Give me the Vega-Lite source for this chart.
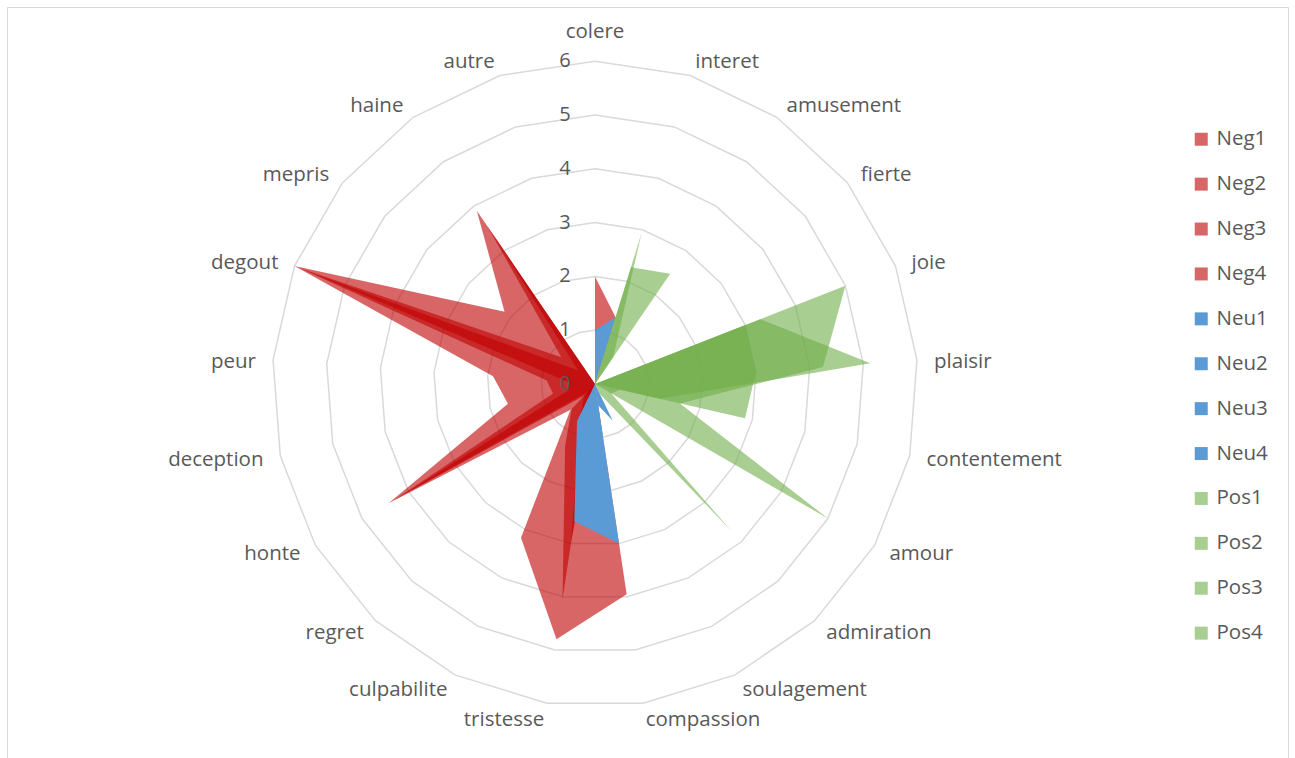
{
  "$schema": "https://vega.github.io/schema/vega-lite/v6.json",
  "width": 1281,
  "height": 752,
  "autosize": "none",
  "padding": {"left": 7, "top": 7, "right": 7, "bottom": 0},
  "background": "white",
  "config": {"view": {"stroke": "#D9D9D9", "strokeWidth": 1}},
  "datasets": {
    "cats": [
      {"c": "colere", "i": 0}, {"c": "interet", "i": 1}, {"c": "amusement", "i": 2}, {"c": "fierte", "i": 3},
      {"c": "joie", "i": 4}, {"c": "plaisir", "i": 5}, {"c": "contentement", "i": 6}, {"c": "amour", "i": 7},
      {"c": "admiration", "i": 8}, {"c": "soulagement", "i": 9}, {"c": "compassion", "i": 10}, {"c": "tristesse", "i": 11},
      {"c": "culpabilite", "i": 12}, {"c": "regret", "i": 13}, {"c": "honte", "i": 14}, {"c": "deception", "i": 15},
      {"c": "peur", "i": 16}, {"c": "degout", "i": 17}, {"c": "mepris", "i": 18}, {"c": "haine", "i": 19}, {"c": "autre", "i": 20}
    ],
    "ticks": [{"t": 0}, {"t": 1}, {"t": 2}, {"t": 3}, {"t": 4}, {"t": 5}, {"t": 6}],
    "vals": [
      {"s":"Neg1","c":"colere","v":2},{"s":"Neg1","c":"interet","v":1.3},{"s":"Neg1","c":"amusement","v":0},{"s":"Neg1","c":"fierte","v":0},{"s":"Neg1","c":"joie","v":0},{"s":"Neg1","c":"plaisir","v":0},{"s":"Neg1","c":"contentement","v":0},{"s":"Neg1","c":"amour","v":0},{"s":"Neg1","c":"admiration","v":0},{"s":"Neg1","c":"soulagement","v":0},{"s":"Neg1","c":"compassion","v":0},{"s":"Neg1","c":"tristesse","v":4.05},{"s":"Neg1","c":"culpabilite","v":1.28},{"s":"Neg1","c":"regret","v":0.64},{"s":"Neg1","c":"honte","v":4.43},{"s":"Neg1","c":"deception","v":1.66},{"s":"Neg1","c":"peur","v":1.9},{"s":"Neg1","c":"degout","v":6},{"s":"Neg1","c":"mepris","v":2.15},{"s":"Neg1","c":"haine","v":3.9},{"s":"Neg1","c":"autre","v":0},
      {"s":"Neg2","c":"colere","v":0},{"s":"Neg2","c":"interet","v":0},{"s":"Neg2","c":"amusement","v":0},{"s":"Neg2","c":"fierte","v":0},{"s":"Neg2","c":"joie","v":0},{"s":"Neg2","c":"plaisir","v":0},{"s":"Neg2","c":"contentement","v":0},{"s":"Neg2","c":"amour","v":0},{"s":"Neg2","c":"admiration","v":0},{"s":"Neg2","c":"soulagement","v":0},{"s":"Neg2","c":"compassion","v":3.95},{"s":"Neg2","c":"tristesse","v":4.8},{"s":"Neg2","c":"culpabilite","v":3.17},{"s":"Neg2","c":"regret","v":0.68},{"s":"Neg2","c":"honte","v":0},{"s":"Neg2","c":"deception","v":0},{"s":"Neg2","c":"peur","v":0},{"s":"Neg2","c":"degout","v":0},{"s":"Neg2","c":"mepris","v":0},{"s":"Neg2","c":"haine","v":0},{"s":"Neg2","c":"autre","v":0},
      {"s":"Neg3","c":"colere","v":0},{"s":"Neg3","c":"interet","v":0},{"s":"Neg3","c":"amusement","v":0},{"s":"Neg3","c":"fierte","v":0},{"s":"Neg3","c":"joie","v":0},{"s":"Neg3","c":"plaisir","v":0},{"s":"Neg3","c":"contentement","v":0},{"s":"Neg3","c":"amour","v":0},{"s":"Neg3","c":"admiration","v":0},{"s":"Neg3","c":"soulagement","v":0},{"s":"Neg3","c":"compassion","v":0.3},{"s":"Neg3","c":"tristesse","v":3.0},{"s":"Neg3","c":"culpabilite","v":0.6},{"s":"Neg3","c":"regret","v":0.3},{"s":"Neg3","c":"honte","v":4.3},{"s":"Neg3","c":"deception","v":0.8},{"s":"Neg3","c":"peur","v":0.9},{"s":"Neg3","c":"degout","v":5.9},{"s":"Neg3","c":"mepris","v":0.8},{"s":"Neg3","c":"haine","v":3.57},{"s":"Neg3","c":"autre","v":0},
      {"s":"Neg4","c":"colere","v":0},{"s":"Neg4","c":"interet","v":0},{"s":"Neg4","c":"amusement","v":0},{"s":"Neg4","c":"fierte","v":0},{"s":"Neg4","c":"joie","v":0},{"s":"Neg4","c":"plaisir","v":0},{"s":"Neg4","c":"contentement","v":0},{"s":"Neg4","c":"amour","v":0},{"s":"Neg4","c":"admiration","v":0},{"s":"Neg4","c":"soulagement","v":0},{"s":"Neg4","c":"compassion","v":0},{"s":"Neg4","c":"tristesse","v":2.0},{"s":"Neg4","c":"culpabilite","v":0.3},{"s":"Neg4","c":"regret","v":0.2},{"s":"Neg4","c":"honte","v":4.1},{"s":"Neg4","c":"deception","v":0.5},{"s":"Neg4","c":"peur","v":0.5},{"s":"Neg4","c":"degout","v":5.6},{"s":"Neg4","c":"mepris","v":0.4},{"s":"Neg4","c":"haine","v":3.4},{"s":"Neg4","c":"autre","v":0},
      {"s":"Neu1","c":"colere","v":1},{"s":"Neu1","c":"interet","v":1.3},{"s":"Neu1","c":"amusement","v":0},{"s":"Neu1","c":"fierte","v":0},{"s":"Neu1","c":"joie","v":0},{"s":"Neu1","c":"plaisir","v":0},{"s":"Neu1","c":"contentement","v":0},{"s":"Neu1","c":"amour","v":0},{"s":"Neu1","c":"admiration","v":0},{"s":"Neu1","c":"soulagement","v":0},{"s":"Neu1","c":"compassion","v":0},{"s":"Neu1","c":"tristesse","v":0},{"s":"Neu1","c":"culpabilite","v":0},{"s":"Neu1","c":"regret","v":0},{"s":"Neu1","c":"honte","v":0},{"s":"Neu1","c":"deception","v":0},{"s":"Neu1","c":"peur","v":0},{"s":"Neu1","c":"degout","v":0},{"s":"Neu1","c":"mepris","v":0},{"s":"Neu1","c":"haine","v":0},{"s":"Neu1","c":"autre","v":0},
      {"s":"Neu2","c":"colere","v":0},{"s":"Neu2","c":"interet","v":0},{"s":"Neu2","c":"amusement","v":0},{"s":"Neu2","c":"fierte","v":0},{"s":"Neu2","c":"joie","v":0},{"s":"Neu2","c":"plaisir","v":0},{"s":"Neu2","c":"contentement","v":0},{"s":"Neu2","c":"amour","v":0},{"s":"Neu2","c":"admiration","v":0},{"s":"Neu2","c":"soulagement","v":0},{"s":"Neu2","c":"compassion","v":3.0},{"s":"Neu2","c":"tristesse","v":2.58},{"s":"Neu2","c":"culpabilite","v":0.77},{"s":"Neu2","c":"regret","v":0},{"s":"Neu2","c":"honte","v":0},{"s":"Neu2","c":"deception","v":0},{"s":"Neu2","c":"peur","v":0},{"s":"Neu2","c":"degout","v":0},{"s":"Neu2","c":"mepris","v":0},{"s":"Neu2","c":"haine","v":0},{"s":"Neu2","c":"autre","v":0},
      {"s":"Neu3","c":"colere","v":0},{"s":"Neu3","c":"interet","v":0},{"s":"Neu3","c":"amusement","v":0},{"s":"Neu3","c":"fierte","v":0},{"s":"Neu3","c":"joie","v":0},{"s":"Neu3","c":"plaisir","v":0},{"s":"Neu3","c":"contentement","v":0},{"s":"Neu3","c":"amour","v":0},{"s":"Neu3","c":"admiration","v":0},{"s":"Neu3","c":"soulagement","v":0.76},{"s":"Neu3","c":"compassion","v":0.4},{"s":"Neu3","c":"tristesse","v":0},{"s":"Neu3","c":"culpabilite","v":0},{"s":"Neu3","c":"regret","v":0},{"s":"Neu3","c":"honte","v":0},{"s":"Neu3","c":"deception","v":0},{"s":"Neu3","c":"peur","v":0},{"s":"Neu3","c":"degout","v":0},{"s":"Neu3","c":"mepris","v":0},{"s":"Neu3","c":"haine","v":0},{"s":"Neu3","c":"autre","v":0},
      {"s":"Neu4","c":"colere","v":0.5},{"s":"Neu4","c":"interet","v":0},{"s":"Neu4","c":"amusement","v":0},{"s":"Neu4","c":"fierte","v":0},{"s":"Neu4","c":"joie","v":0},{"s":"Neu4","c":"plaisir","v":0},{"s":"Neu4","c":"contentement","v":0},{"s":"Neu4","c":"amour","v":0},{"s":"Neu4","c":"admiration","v":0},{"s":"Neu4","c":"soulagement","v":0},{"s":"Neu4","c":"compassion","v":1.0},{"s":"Neu4","c":"tristesse","v":1.0},{"s":"Neu4","c":"culpabilite","v":0},{"s":"Neu4","c":"regret","v":0},{"s":"Neu4","c":"honte","v":0},{"s":"Neu4","c":"deception","v":0},{"s":"Neu4","c":"peur","v":0},{"s":"Neu4","c":"degout","v":0},{"s":"Neu4","c":"mepris","v":0},{"s":"Neu4","c":"haine","v":0},{"s":"Neu4","c":"autre","v":0},
      {"s":"Pos1","c":"colere","v":0},{"s":"Pos1","c":"interet","v":2.94},{"s":"Pos1","c":"amusement","v":0.6},{"s":"Pos1","c":"fierte","v":0},{"s":"Pos1","c":"joie","v":3.3},{"s":"Pos1","c":"plaisir","v":5.13},{"s":"Pos1","c":"contentement","v":1.24},{"s":"Pos1","c":"amour","v":0},{"s":"Pos1","c":"admiration","v":0},{"s":"Pos1","c":"soulagement","v":0},{"s":"Pos1","c":"compassion","v":0},{"s":"Pos1","c":"tristesse","v":0},{"s":"Pos1","c":"culpabilite","v":0},{"s":"Pos1","c":"regret","v":0},{"s":"Pos1","c":"honte","v":0},{"s":"Pos1","c":"deception","v":0},{"s":"Pos1","c":"peur","v":0},{"s":"Pos1","c":"degout","v":0},{"s":"Pos1","c":"mepris","v":0},{"s":"Pos1","c":"haine","v":0},{"s":"Pos1","c":"autre","v":0},
      {"s":"Pos2","c":"colere","v":0},{"s":"Pos2","c":"interet","v":3.23},{"s":"Pos2","c":"amusement","v":0},{"s":"Pos2","c":"fierte","v":0},{"s":"Pos2","c":"joie","v":5.0},{"s":"Pos2","c":"plaisir","v":4.25},{"s":"Pos2","c":"contentement","v":1.62},{"s":"Pos2","c":"amour","v":5.0},{"s":"Pos2","c":"admiration","v":0},{"s":"Pos2","c":"soulagement","v":0},{"s":"Pos2","c":"compassion","v":0},{"s":"Pos2","c":"tristesse","v":0},{"s":"Pos2","c":"culpabilite","v":0},{"s":"Pos2","c":"regret","v":0},{"s":"Pos2","c":"honte","v":0},{"s":"Pos2","c":"deception","v":0},{"s":"Pos2","c":"peur","v":0},{"s":"Pos2","c":"degout","v":0},{"s":"Pos2","c":"mepris","v":0},{"s":"Pos2","c":"haine","v":0},{"s":"Pos2","c":"autre","v":0},
      {"s":"Pos3","c":"colere","v":0},{"s":"Pos3","c":"interet","v":2.27},{"s":"Pos3","c":"amusement","v":2.48},{"s":"Pos3","c":"fierte","v":0},{"s":"Pos3","c":"joie","v":3.0},{"s":"Pos3","c":"plaisir","v":3.0},{"s":"Pos3","c":"contentement","v":2.86},{"s":"Pos3","c":"amour","v":0},{"s":"Pos3","c":"admiration","v":0},{"s":"Pos3","c":"soulagement","v":0},{"s":"Pos3","c":"compassion","v":0},{"s":"Pos3","c":"tristesse","v":0},{"s":"Pos3","c":"culpabilite","v":0},{"s":"Pos3","c":"regret","v":0},{"s":"Pos3","c":"honte","v":0},{"s":"Pos3","c":"deception","v":0},{"s":"Pos3","c":"peur","v":0},{"s":"Pos3","c":"degout","v":0},{"s":"Pos3","c":"mepris","v":0},{"s":"Pos3","c":"haine","v":0},{"s":"Pos3","c":"autre","v":0},
      {"s":"Pos4","c":"colere","v":0},{"s":"Pos4","c":"interet","v":0},{"s":"Pos4","c":"amusement","v":0},{"s":"Pos4","c":"fierte","v":0},{"s":"Pos4","c":"joie","v":0},{"s":"Pos4","c":"plaisir","v":0},{"s":"Pos4","c":"contentement","v":0.48},{"s":"Pos4","c":"amour","v":0.35},{"s":"Pos4","c":"admiration","v":3.74},{"s":"Pos4","c":"soulagement","v":0.2},{"s":"Pos4","c":"compassion","v":0},{"s":"Pos4","c":"tristesse","v":0},{"s":"Pos4","c":"culpabilite","v":0},{"s":"Pos4","c":"regret","v":0},{"s":"Pos4","c":"honte","v":0},{"s":"Pos4","c":"deception","v":0},{"s":"Pos4","c":"peur","v":0},{"s":"Pos4","c":"degout","v":0},{"s":"Pos4","c":"mepris","v":0},{"s":"Pos4","c":"haine","v":0},{"s":"Pos4","c":"autre","v":0}
    ]
  },
  "layer": [
    {
      "data": {"name": "cats"},
      "transform": [
        {"calculate": "datum.i*2*PI/21", "as": "a"},
        {"calculate": "[1,2,3,4,5,6]", "as": "lv"},
        {"flatten": ["lv"]},
        {"calculate": "datum.lv*sin(datum.a)", "as": "px"},
        {"calculate": "datum.lv*cos(datum.a)", "as": "py"}
      ],
      "mark": {"type": "line", "interpolate": "linear-closed", "stroke": "#D9D9D9", "strokeWidth": 1.5},
      "encoding": {
        "x": {"field": "px", "type": "quantitative", "scale": {"domain": [-10.929, 12.881], "zero": false, "nice": false}, "axis": null},
        "y": {"field": "py", "type": "quantitative", "scale": {"domain": [-6.97, 7.007], "zero": false, "nice": false}, "axis": null},
        "detail": {"field": "lv"},
        "order": {"field": "i", "type": "quantitative"}
      }
    },
    {
      "data": {"name": "vals"},
      "transform": [
        {"lookup": "c", "from": {"data": {"name": "cats"}, "key": "c", "fields": ["i"]}},
        {"calculate": "datum.i*2*PI/21", "as": "a"},
        {"calculate": "datum.v*sin(datum.a)", "as": "px"},
        {"calculate": "datum.v*cos(datum.a)", "as": "py"}
      ],
      "mark": {"type": "line", "interpolate": "linear-closed", "filled": true, "strokeWidth": 0},
      "encoding": {
        "x": {"field": "px", "type": "quantitative"},
        "y": {"field": "py", "type": "quantitative"},
        "color": {
          "field": "s", "type": "nominal",
          "scale": {
            "domain": ["Neg1","Neg2","Neg3","Neg4","Neu1","Neu2","Neu3","Neu4","Pos1","Pos2","Pos3","Pos4"],
            "range": ["rgba(192,0,0,0.6)","rgba(192,0,0,0.6)","rgba(192,0,0,0.6)","rgba(192,0,0,0.6)","#5B9BD5","#5B9BD5","#5B9BD5","#5B9BD5","rgba(112,173,71,0.6)","rgba(112,173,71,0.6)","rgba(112,173,71,0.6)","rgba(112,173,71,0.6)"]
          },
          "legend": {
            "orient": "none", "legendX": 1184, "legendY": 122, "title": null, "padding": 0,
            "symbolType": "square", "symbolSize": 169, "symbolStrokeWidth": 0,
            "labelFont": "Open Sans", "labelFontSize": 20.5, "labelColor": "#595959", "labelOffset": 5,
            "rowPadding": 23.9
          }
        },
        "order": {"field": "i", "type": "quantitative"}
      }
    },
    {
      "data": {"name": "ticks"},
      "mark": {"type": "text", "font": "Open Sans", "fontSize": 20, "color": "#595959", "align": "center", "baseline": "middle", "dx": -30},
      "encoding": {
        "x": {"datum": 0, "type": "quantitative"},
        "y": {"field": "t", "type": "quantitative"},
        "text": {"field": "t"}
      }
    },
    {
      "data": {"name": "cats"},
      "transform": [
        {"filter": "datum.i >= 1 && datum.i <= 10"},
        {"calculate": "datum.i*2*PI/21", "as": "a"},
        {"calculate": "6.32*sin(datum.a)", "as": "px"},
        {"calculate": "6.32*cos(datum.a) - (cos(datum.a) > 0 ? 0.06 : 0)", "as": "py"}
      ],
      "mark": {"type": "text", "font": "Open Sans", "fontSize": 20.5, "color": "#595959", "align": "left", "baseline": "middle"},
      "encoding": {
        "x": {"field": "px", "type": "quantitative"},
        "y": {"field": "py", "type": "quantitative"},
        "text": {"field": "c"}
      }
    },
    {
      "data": {"name": "cats"},
      "transform": [
        {"filter": "datum.i >= 11"},
        {"calculate": "datum.i*2*PI/21", "as": "a"},
        {"calculate": "6.32*sin(datum.a)", "as": "px"},
        {"calculate": "6.32*cos(datum.a) - (cos(datum.a) > 0 ? 0.06 : 0)", "as": "py"}
      ],
      "mark": {"type": "text", "font": "Open Sans", "fontSize": 20.5, "color": "#595959", "align": "right", "baseline": "middle"},
      "encoding": {
        "x": {"field": "px", "type": "quantitative"},
        "y": {"field": "py", "type": "quantitative"},
        "text": {"field": "c"}
      }
    },
    {
      "data": {"name": "cats"},
      "transform": [
        {"filter": "datum.i == 0"},
        {"calculate": "6.54", "as": "py"},
        {"calculate": "0", "as": "px"}
      ],
      "mark": {"type": "text", "font": "Open Sans", "fontSize": 20.5, "color": "#595959", "align": "center", "baseline": "middle"},
      "encoding": {
        "x": {"field": "px", "type": "quantitative"},
        "y": {"field": "py", "type": "quantitative"},
        "text": {"field": "c"}
      }
    }
  ]
}
